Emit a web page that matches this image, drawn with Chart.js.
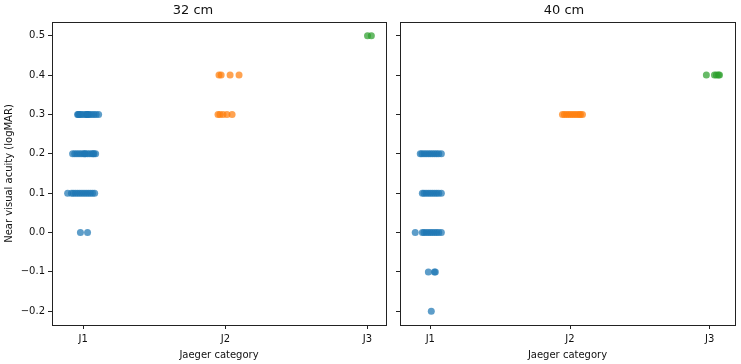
<!DOCTYPE html>
<html>
<head>
<meta charset="utf-8">
<script src="https://cdn.jsdelivr.net/npm/chart.js@4.4.1/dist/chart.umd.min.js"></script>
<style>
  html, body { margin: 0; padding: 0; background: #fff; }
  #wrap { position: relative; width: 741px; height: 364px; }
  #left { position: absolute; left: 0; top: 0; }
  #right { position: absolute; left: 393px; top: 0; }
</style>
</head>
<body>
<div id="wrap">
  <canvas id="left" width="393" height="364"></canvas>
  <canvas id="right" width="348" height="364"></canvas>
</div>
<script>
// categories and panels
const categories = ['J1', 'J2', 'J3'];
const panels = ['32 cm', '40 cm'];
const colors = ['rgba(31,119,180,0.72)', 'rgba(255,127,14,0.72)', 'rgba(44,160,44,0.72)'];
const yTicks = [-0.2, -0.1, 0.0, 0.1, 0.2, 0.3, 0.4, 0.5];

// 32 cm - acuity values (logMAR) and horizontal strip jitter per point
const j1At32 = [0.3,0.3,0.3,0.3,0.3,0.3,0.3,0.3,0.3,0.3,0.3,0.3,0.3,0.3,0.3,
                0.2,0.2,0.2,0.2,0.2,0.2,0.2,0.2,0.2,0.2,0.2,0.2,0.2,0.2,
                0.1,0.1,0.1,0.1,0.1,0.1,0.1,0.1,0.1,0.1,0.1,0.1,0.1,
                0.0,0.0];
const j1At32Jitter = [-0.04,-0.035,-0.03,-0.02,-0.01,0.005,0.02,0.025,0.03,0.035,0.045,0.06,0.075,0.09,0.108,
                      -0.075,-0.06,-0.045,-0.03,-0.015,0,0.01,0.015,0.03,0.045,0.06,0.07,0.075,0.087,
                      -0.11,-0.083,-0.07,-0.055,-0.04,-0.025,-0.01,0.005,0.02,0.035,0.05,0.065,0.08,
                      -0.02,0.03];
const j2At32 = [0.4,0.4,0.4,0.4, 0.3,0.3,0.3,0.3,0.3];
const j2At32Jitter = [-0.045,-0.03,0.033,0.096, -0.052,-0.038,-0.017,0.011,0.047];
const j3At32 = [0.5,0.5];
const j3At32Jitter = [0.0,0.027];

// 40 cm
const j1At40 = [0.2,0.2,0.2,0.2,0.2,0.2,0.2,0.2,0.2,0.2,0.2,
                0.1,0.1,0.1,0.1,0.1,0.1,0.1,0.1,0.1,0.1,
                0.0,0.0,0.0,0.0,0.0,0.0,0.0,0.0,0.0,0.0,0.0,
                -0.1,-0.1,-0.1,
                -0.2];
const j1At40Jitter = [-0.072,-0.06,-0.045,-0.03,-0.015,0,0.015,0.03,0.045,0.06,0.079,
                      -0.057,-0.045,-0.03,-0.015,0,0.015,0.03,0.045,0.06,0.079,
                      -0.108,-0.057,-0.045,-0.03,-0.015,0,0.015,0.03,0.045,0.06,0.079,
                      -0.014,0.029,0.036,
                      0.007];
const j2At40 = [0.3,0.3,0.3,0.3,0.3,0.3,0.3,0.3,0.3,0.3,0.3];
const j2At40Jitter = [-0.054,-0.04,-0.025,-0.01,0.005,0.02,0.035,0.05,0.065,0.075,0.089];
const j3At40 = [0.4,0.4,0.4,0.4,0.4];
const j3At40Jitter = [-0.024,0.034,0.048,0.062,0.07];

function strip(idx, vals, jit) {
    return vals.map((v, k) => ({ x: idx + jit[k], y: v }));
}

function makeDatasets(groups) {
    return groups.map((g, i) => ({
        label: categories[i],
        data: strip(i, g[0], g[1]),
        backgroundColor: colors[i],
        borderWidth: 0,
        pointRadius: 3.5,
        pointHoverRadius: 3.5
    }));
}

// full axes frame like matplotlib spines
const frame = {
    id: 'frame',
    afterDraw(chart) {
        const a = chart.chartArea;
        const c = chart.ctx;
        c.save();
        c.strokeStyle = '#222';
        c.lineWidth = 1;
        c.strokeRect(Math.round(a.left) + 0.5, Math.round(a.top) + 0.5,
                     Math.round(a.right - a.left), Math.round(a.bottom - a.top));
        c.restore();
    }
};

const fmt = v => (v < 0 ? '\u2212' : '') + Math.abs(v).toFixed(1);

function makeConfig(title, groups, xMin, xMax, showY, padL, padR, yWidth) {
    return {
        type: 'scatter',
        data: { datasets: makeDatasets(groups) },
        options: {
            responsive: false,
            animation: false,
            layout: { padding: { left: padL, right: padR, top: 0, bottom: 0 } },
            plugins: {
                legend: { display: false },
                tooltip: { enabled: false },
                title: {
                    display: true,
                    text: title,
                    color: '#111',
                    font: { family: 'DejaVu Sans', size: 13, weight: 'normal', lineHeight: 1.1 },
                    padding: { top: 3, bottom: 4.7 }
                }
            },
            scales: {
                x: {
                    type: 'linear',
                    min: xMin,
                    max: xMax,
                    afterBuildTicks: axis => { axis.ticks = [0, 1, 2].map(v => ({ value: v })); },
                    afterFit: axis => { axis.height = 39; },
                    ticks: {
                        callback: v => categories[v],
                        color: '#111',
                        font: { family: 'DejaVu Sans', size: 10 },
                        padding: 4,
                        maxRotation: 0
                    },
                    grid: { drawOnChartArea: false, drawTicks: true, tickLength: 4, color: '#222' },
                    border: { display: false },
                    title: {
                        display: true,
                        text: 'Jaeger category',
                        color: '#111',
                        font: { family: 'DejaVu Sans', size: 10 },
                        padding: { top: 2, bottom: 3 }
                    }
                },
                y: {
                    min: -0.235,
                    max: 0.535,
                    afterBuildTicks: axis => { axis.ticks = yTicks.map(v => ({ value: v })); },
                    afterFit: axis => { axis.width = yWidth; },
                    ticks: {
                        display: showY,
                        callback: v => fmt(v),
                        color: '#111',
                        font: { family: 'DejaVu Sans', size: 10 },
                        padding: 3
                    },
                    grid: { drawOnChartArea: false, drawTicks: true, tickLength: 4, color: '#222' },
                    border: { display: false },
                    title: {
                        display: showY,
                        text: 'Near visual acuity (logMAR)',
                        color: '#111',
                        font: { family: 'DejaVu Sans', size: 10 },
                        padding: { top: 3, bottom: 0 }
                    }
                }
            }
        },
        plugins: [frame]
    };
}

new Chart(document.getElementById('left').getContext('2d'),
    makeConfig(panels[0],
        [[j1At32, j1At32Jitter], [j2At32, j2At32Jitter], [j3At32, j3At32Jitter]],
        -0.22, 2.13, true, 0, 7, 52));

new Chart(document.getElementById('right').getContext('2d'),
    makeConfig(panels[1],
        [[j1At40, j1At40Jitter], [j2At40, j2At40Jitter], [j3At40, j3At40Jitter]],
        -0.217, 2.181, false, 0, 6, 7));
</script>
</body>
</html>
